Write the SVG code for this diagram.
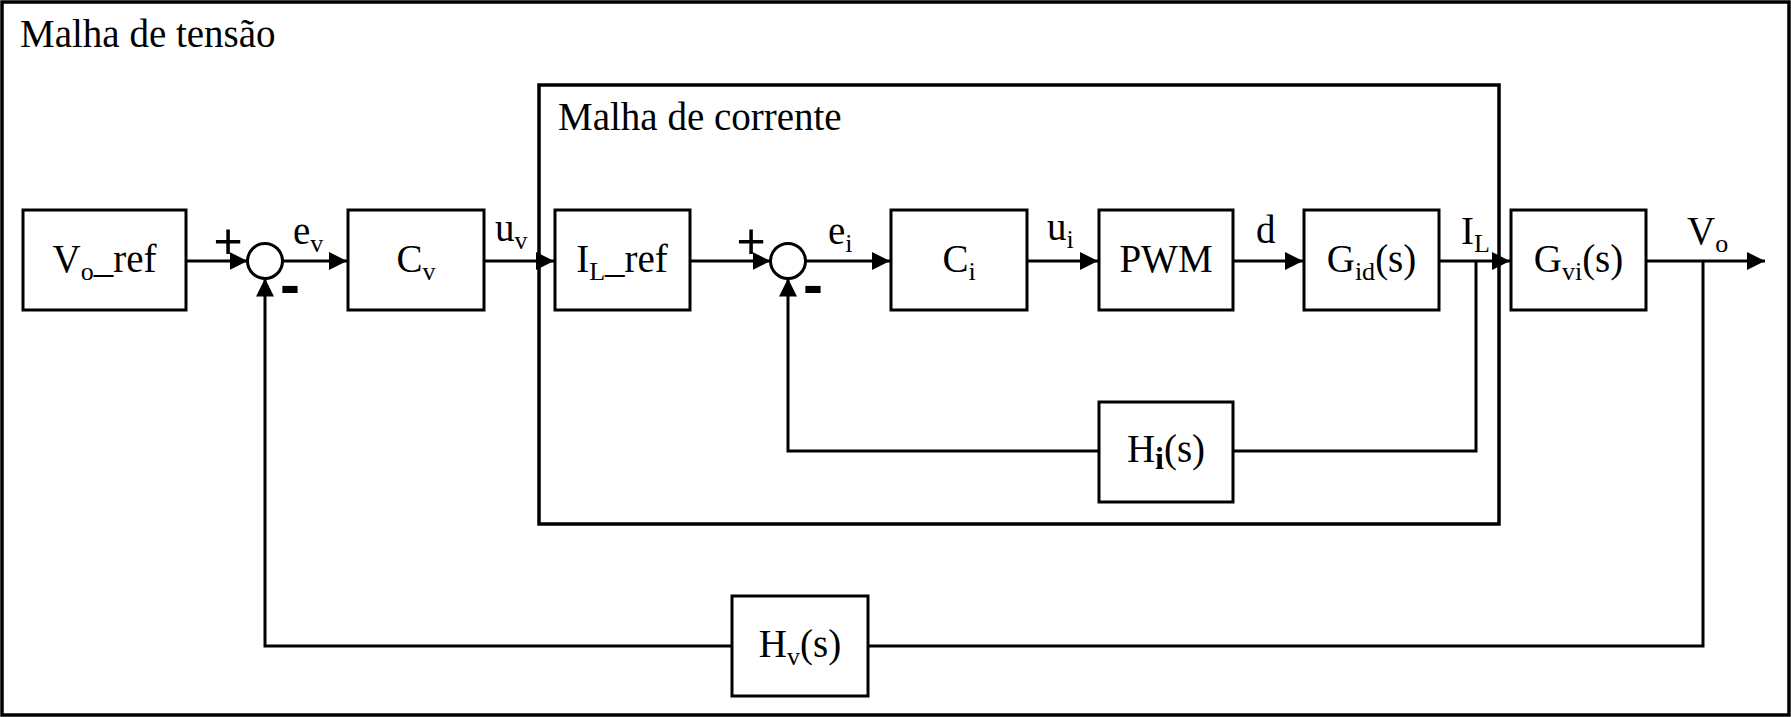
<svg xmlns="http://www.w3.org/2000/svg" width="1791" height="717" viewBox="0 0 1791 717">
<style>
.frame{fill:none;stroke:#000;stroke-width:3.5}
.box{fill:#fff;stroke:#000;stroke-width:3}
.sum{fill:#fff;stroke:#000;stroke-width:3}
.ln{fill:none;stroke:#000;stroke-width:3}
text{font-family:"Liberation Serif","Times New Roman",serif;font-size:39px;fill:#000}
.lbl{text-anchor:middle}
.sub{font-size:26px}
.sgn{font-family:"Liberation Sans",Arial,sans-serif;font-size:50px;text-anchor:middle}
.neg{font-family:"Liberation Sans",Arial,sans-serif;font-size:60px;font-weight:bold;text-anchor:middle}
</style>
<defs>
<marker id="arr" viewBox="0 0 18 18" refX="18" refY="9" markerWidth="18" markerHeight="18" markerUnits="userSpaceOnUse" orient="auto">
<path d="M0,0 L18,9 L0,18 z" fill="#000"/>
</marker>
</defs>
<rect width="1791" height="717" fill="#fff"/>
<g id="outer-loop">
<rect class="frame" x="2" y="2" width="1787" height="713"/>
<text x="20" y="47">Malha de tensão</text>
</g>
<g id="inner-loop">
<rect class="frame" x="539" y="85" width="960" height="439"/>
<text x="558" y="130">Malha de corrente</text>
</g>
<g id="connectors">
<path class="ln" d="M186,261 H247.5" marker-end="url(#arr)"/>
<path class="ln" d="M282.5,261 H347" marker-end="url(#arr)"/>
<path class="ln" d="M484,261 H554" marker-end="url(#arr)"/>
<path class="ln" d="M690,261 H770.5" marker-end="url(#arr)"/>
<path class="ln" d="M805.5,261 H890" marker-end="url(#arr)"/>
<path class="ln" d="M1027,261 H1098" marker-end="url(#arr)"/>
<path class="ln" d="M1233,261 H1303" marker-end="url(#arr)"/>
<path class="ln" d="M1439,261 H1510" marker-end="url(#arr)"/>
<path class="ln" d="M1646,261 H1765" marker-end="url(#arr)"/>
<path class="ln" d="M1476,261 V451 H1233"/>
<path class="ln" d="M1099,451 H788 V278.5" marker-end="url(#arr)"/>
<path class="ln" d="M1703,261 V646 H868"/>
<path class="ln" d="M732,646 H265 V278.5" marker-end="url(#arr)"/>
</g>
<g id="labels">
<text x="293" y="244">e<tspan class="sub" dy="8">v</tspan></text>
<text x="495" y="241">u<tspan class="sub" dy="8">v</tspan></text>
<text x="828" y="244">e<tspan class="sub" dy="8">i</tspan></text>
<text x="1047" y="240">u<tspan class="sub" dy="8">i</tspan></text>
<text x="1256" y="243">d</text>
<text x="1461" y="244">I<tspan class="sub" dy="8">L</tspan></text>
<text x="1687" y="244">V<tspan class="sub" dy="8">o</tspan></text>
<text class="sgn" x="228" y="258">+</text>
<text class="neg" x="290" y="305">-</text>
<text class="sgn" x="751" y="258">+</text>
<text class="neg" x="813" y="305">-</text>
</g>
<g id="vo-ref">
<rect class="box" x="23" y="210" width="163" height="100"/>
<text class="lbl" x="104.5" y="272">V<tspan class="sub" dy="8">o</tspan><tspan dy="-8">_ref</tspan></text>
</g>
<g id="sum1">
<circle class="sum" cx="265" cy="261" r="17.5"/>
</g>
<g id="cv">
<rect class="box" x="348" y="210" width="136" height="100"/>
<text class="lbl" x="416" y="272">C<tspan class="sub" dy="8">v</tspan></text>
</g>
<g id="il-ref">
<rect class="box" x="555" y="210" width="135" height="100"/>
<text class="lbl" x="622" y="272">I<tspan class="sub" dy="8">L</tspan><tspan dy="-8">_ref</tspan></text>
</g>
<g id="sum2">
<circle class="sum" cx="788" cy="261" r="17.5"/>
</g>
<g id="ci">
<rect class="box" x="891" y="210" width="136" height="100"/>
<text class="lbl" x="959" y="272">C<tspan class="sub" dy="8">i</tspan></text>
</g>
<g id="pwm">
<rect class="box" x="1099" y="210" width="134" height="100"/>
<text class="lbl" x="1166" y="272">PWM</text>
</g>
<g id="gid">
<rect class="box" x="1304" y="210" width="135" height="100"/>
<text class="lbl" x="1371.5" y="272">G<tspan class="sub" dy="8">id</tspan><tspan dy="-8">(s)</tspan></text>
</g>
<g id="gvi">
<rect class="box" x="1511" y="210" width="135" height="100"/>
<text class="lbl" x="1578.5" y="272">G<tspan class="sub" dy="8">vi</tspan><tspan dy="-8">(s)</tspan></text>
</g>
<g id="hi">
<rect class="box" x="1099" y="402" width="134" height="100"/>
<text class="lbl" x="1166" y="462">H<tspan style="font-size:32px;font-weight:bold" dy="7">i</tspan><tspan dy="-7">(s)</tspan></text>
</g>
<g id="hv">
<rect class="box" x="732" y="596" width="136" height="100"/>
<text class="lbl" x="800" y="657">H<tspan class="sub" dy="8">v</tspan><tspan dy="-8">(s)</tspan></text>
</g>
</svg>
